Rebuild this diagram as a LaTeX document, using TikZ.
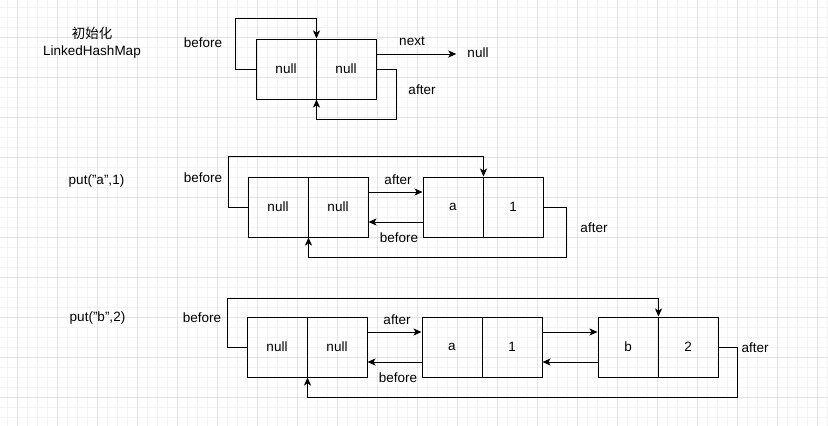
\documentclass[tikz,border=0pt]{standalone}
\usepackage{fontspec}
\setmainfont{Liberation Sans}
\newfontfamily\cjk{Noto Sans CJK SC}
\usetikzlibrary{arrows.meta}
\definecolor{gridmajor}{HTML}{E4E4E4}
\definecolor{gridminor}{HTML}{F3F3F3}
\tikzset{
  cell/.style={draw=black, line width=1pt, minimum width=60pt, minimum height=60pt, inner sep=0pt, font=\fontsize{13.5}{16}\selectfont},
  lbl/.style={inner sep=0pt, font=\fontsize{13.5}{16}\selectfont},
  arr/.style={draw=black, line width=1pt, -{Stealth[length=8pt,width=7pt,inset=2pt]}},
}
\begin{document}
\begin{tikzpicture}[x=1pt,y=-1pt]
\useasboundingbox (0,0) rectangle (828,426);
\fill[white] (0,0) rectangle (828,426);
% grid
\foreach \gx in {7,17,...,827} \draw[gridminor, line width=0.6pt] (\gx,0) -- (\gx,426);
\foreach \gy in {7,17,...,425} \draw[gridminor, line width=0.6pt] (0,\gy) -- (828,\gy);
\foreach \gx in {17,57,...,827} \draw[gridmajor, line width=0.8pt] (\gx,0) -- (\gx,426);
\foreach \gy in {37,77,...,425} \draw[gridmajor, line width=0.8pt] (0,\gy) -- (828,\gy);

% left titles
\node[lbl] (t1a) at (92,33) {\cjk 初始化};
\node[lbl] (t1b) at (92,52) {LinkedHashMap};
\node[lbl] (t2) at (96.5,181) {put("a",1)};
\node[lbl] (t3) at (97.5,318) {put("b",2)};

% ---------- row 1 ----------
\node[cell] (r1a) at (286,69) {null};
\node[cell] (r1b) at (346,69) {null};
\node[lbl, inner xsep=11pt] (r1n) at (478,53) {null};
\coordinate (r1s) at ([yshift=15pt]r1b.east);
\draw[arr] (r1a.west) -- ++(-20,0) |- ([yshift=20pt]r1a.north east) -- (r1a.north east);
\draw[arr] (r1b.east) -- ++(20,0) |- ([yshift=-20pt]r1a.south east) -- (r1a.south east);
\draw[arr] (r1s) -- (r1n.west |- r1s);
\node[lbl] (l1a) at (203,43) {before};
\node[lbl] (l1b) at (412,41) {next};
\node[lbl] (l1c) at (422,90) {after};

% ---------- row 2 ----------
\node[cell] (r2a) at (278,207) {null};
\node[cell] (r2b) at (338,207) {null};
\node[cell] (r2c) at (453,207) {a};
\node[cell] (r2d) at (513,207) {1};
\draw[arr] (r2a.west) -- ++(-19,0) |- ([yshift=20pt]r2c.north east) -- (r2c.north east);
\draw[arr] ([yshift=15pt]r2b.east) -- ([yshift=15pt]r2c.west);
\draw[arr] ([yshift=-15pt]r2c.west) -- ([yshift=-15pt]r2b.east);
\draw[arr] (r2d.east) -- ++(23,0) |- ([yshift=-20pt]r2a.south east) -- (r2a.south east);
\node[lbl] (l2a) at (203,178) {before};
\node[lbl] (l2b) at (398,180) {after};
\node[lbl] (l2c) at (399,238) {before};
\node[lbl] (l2d) at (594,228) {after};

% ---------- row 3 ----------
\node[cell] (r3a) at (277,347) {null};
\node[cell] (r3b) at (337,347) {null};
\node[cell] (r3c) at (452,347) {a};
\node[cell] (r3d) at (512,347) {1};
\node[cell] (r3e) at (628,347) {b};
\node[cell] (r3f) at (688,347) {2};
\draw[arr] (r3a.west) -- ++(-19,0) |- ([yshift=18pt]r3e.north east) -- (r3e.north east);
\draw[arr] ([yshift=15pt]r3b.east) -- ([yshift=15pt]r3c.west);
\draw[arr] ([yshift=-15pt]r3c.west) -- ([yshift=-15pt]r3b.east);
\draw[arr] ([yshift=15pt]r3d.east) -- ([yshift=15pt]r3e.west);
\draw[arr] ([yshift=-15pt]r3e.west) -- ([yshift=-15pt]r3d.east);
\draw[arr] (r3f.east) -- ++(19,0) |- ([yshift=-20pt]r3a.south east) -- (r3a.south east);
\node[lbl] (l3a) at (202,318) {before};
\node[lbl] (l3b) at (397,320) {after};
\node[lbl] (l3c) at (398,378) {before};
\node[lbl] (l3d) at (755,348) {after};
\end{tikzpicture}
\end{document}
